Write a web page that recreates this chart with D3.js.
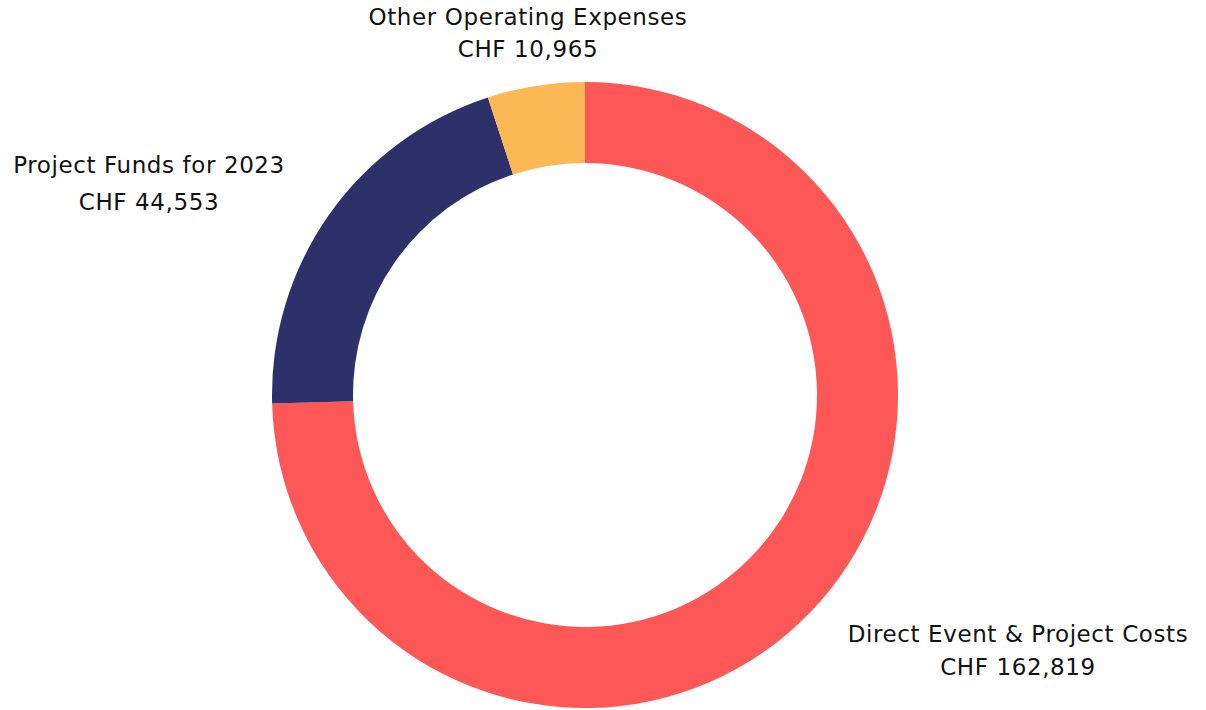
<!DOCTYPE html>
<html>
<head>
<meta charset="utf-8">
<script src="https://cdn.jsdelivr.net/npm/d3@7"></script>
<style>
  html, body { margin: 0; padding: 0; background: #fff; }
  svg { display: block; }
  text { font-family: "DejaVu Sans", "Noto Sans", sans-serif; font-weight: 400; fill: #111; letter-spacing: 0.6px; }
</style>
</head>
<body>
<svg id="chart" width="1206" height="710"></svg>
<script>
// Expense breakdown (CHF)
const categories = ["Direct Event & Project Costs", "Project Funds for 2023", "Other Operating Expenses"];
const values = [162819, 44553, 10965];
const colors = ["#fe5757", "#2e3169", "#fbb855"];

// Label placement for each category: centre x, first baseline y, line gap
const labelLayout = [
  { x: 1018, y: 642, gap: 33 },
  { x: 149, y: 173, gap: 37 },
  { x: 528, y: 25, gap: 32 }
];

const svg = d3.select("#chart");
const cx = 585, cy = 395;
const outerR = 313, innerR = 232;

const pie = d3.pie().sort(null).value(d => d.value);
const arc = d3.arc().innerRadius(innerR).outerRadius(outerR);

const data = categories.map((c, i) => ({ name: c, value: values[i], color: colors[i] }));

const g = svg.append("g").attr("transform", `translate(${cx},${cy})`);
g.selectAll("path")
  .data(pie(data))
  .join("path")
  .attr("d", arc)
  .attr("fill", d => d.data.color);

const fmt = d3.format(",");
const labels = svg.selectAll("g.label")
  .data(data)
  .join("g")
  .attr("class", "label");

labels.append("text")
  .attr("x", (d, i) => labelLayout[i].x)
  .attr("y", (d, i) => labelLayout[i].y)
  .attr("text-anchor", "middle")
  .attr("font-size", 23)
  .text(d => d.name);

labels.append("text")
  .attr("x", (d, i) => labelLayout[i].x)
  .attr("y", (d, i) => labelLayout[i].y + labelLayout[i].gap)
  .attr("text-anchor", "middle")
  .attr("font-size", 23)
  .text(d => "CHF " + fmt(d.value));
</script>
</body>
</html>
